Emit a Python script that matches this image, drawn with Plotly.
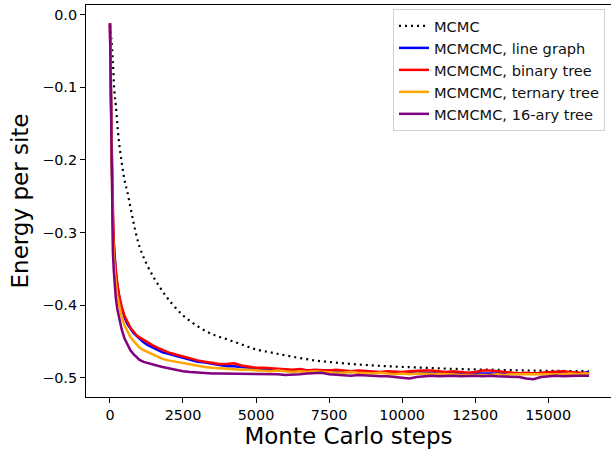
import plotly.graph_objects as go

# ---- data ----
mcmc_steps = [0, 50, 100, 150, 200, 300, 400, 500, 600, 800, 1000, 1250, 1500, 1750, 2000,
              2500, 3000, 3500, 4000, 4500, 5000, 5500, 6000, 7000, 8000, 9000, 10000,
              11000, 12000, 13000, 14000, 15000, 16400]
mcmc_energy = [-0.015, -0.035, -0.065, -0.105, -0.125, -0.172, -0.203, -0.228, -0.245, -0.285,
               -0.318, -0.343, -0.362, -0.378, -0.392, -0.414, -0.429, -0.440, -0.447, -0.454,
               -0.461, -0.465, -0.469, -0.476, -0.480, -0.483, -0.485, -0.4865, -0.488,
               -0.4888, -0.4897, -0.4903, -0.491]

steps = [0, 20, 40, 60, 80, 100, 130, 160, 200, 250, 300, 350, 400, 500, 600, 700, 800, 900,
         1000, 1150, 1300, 1450, 1600, 1800, 2000,
         2250, 2500, 2750, 3000, 3250, 3500, 3750, 4000, 4250, 4500, 4750, 5000, 5250, 5500,
         5750, 6000, 6250, 6500, 6750, 7000, 7250, 7500, 7750, 8000, 8250, 8500, 8750, 9000,
         9250, 9500, 9750, 10000, 10250, 10500, 10750, 11000, 11250, 11500, 11750, 12000,
         12250, 12500, 12750, 13000, 13250, 13500, 13750, 14000, 14250, 14500, 14750, 15000,
         15250, 15500, 15750, 16000, 16250, 16400]

line_graph = [-0.012, -0.06, -0.14, -0.21, -0.255, -0.285, -0.315, -0.338, -0.355, -0.372,
              -0.386, -0.396, -0.404, -0.417, -0.426, -0.433, -0.438, -0.442, -0.446, -0.451,
              -0.455, -0.458, -0.461, -0.465, -0.467,
              -0.470, -0.473, -0.476, -0.478, -0.479, -0.481, -0.482, -0.484, -0.484, -0.485,
              -0.487, -0.487, -0.488, -0.488, -0.489, -0.489, -0.490, -0.489, -0.490, -0.490,
              -0.491, -0.490, -0.491, -0.491, -0.492, -0.491, -0.492, -0.492, -0.493, -0.492,
              -0.493, -0.493, -0.494, -0.492, -0.493, -0.493, -0.494, -0.494, -0.493, -0.494,
              -0.494, -0.495, -0.494, -0.494, -0.495, -0.494, -0.495, -0.494, -0.495, -0.495,
              -0.494, -0.495, -0.495, -0.494, -0.494, -0.494, -0.493, -0.492]

binary_tree = [-0.012, -0.055, -0.13, -0.20, -0.25, -0.282, -0.312, -0.335, -0.353, -0.370,
               -0.384, -0.394, -0.402, -0.415, -0.424, -0.431, -0.436, -0.441, -0.444, -0.448,
               -0.452, -0.455, -0.458, -0.462, -0.465,
               -0.468, -0.471, -0.474, -0.476, -0.478, -0.480, -0.481, -0.481, -0.480, -0.483,
               -0.485, -0.486, -0.486, -0.487, -0.488, -0.488, -0.489, -0.488, -0.490, -0.489,
               -0.490, -0.490, -0.489, -0.490, -0.491, -0.490, -0.491, -0.492, -0.492, -0.491,
               -0.492, -0.492, -0.491, -0.490, -0.490, -0.490, -0.491, -0.492, -0.491, -0.492,
               -0.493, -0.492, -0.490, -0.490, -0.491, -0.492, -0.493, -0.494, -0.493, -0.494,
               -0.493, -0.492, -0.491, -0.491, -0.492, -0.493, -0.494, -0.494]

ternary_tree = [-0.012, -0.07, -0.16, -0.23, -0.275, -0.305, -0.335, -0.352, -0.370, -0.387,
                -0.398, -0.408, -0.416, -0.428, -0.437, -0.444, -0.449, -0.454, -0.458, -0.462,
                -0.465, -0.468, -0.470, -0.474, -0.476,
                -0.478, -0.480, -0.482, -0.484, -0.485, -0.486, -0.487, -0.487, -0.488, -0.489,
                -0.489, -0.490, -0.490, -0.491, -0.490, -0.491, -0.492, -0.491, -0.492, -0.491,
                -0.492, -0.492, -0.493, -0.493, -0.492, -0.493, -0.494, -0.494, -0.493, -0.494,
                -0.495, -0.494, -0.495, -0.494, -0.494, -0.495, -0.494, -0.495, -0.495, -0.496,
                -0.496, -0.497, -0.496, -0.496, -0.495, -0.496, -0.495, -0.495, -0.496, -0.495,
                -0.495, -0.496, -0.495, -0.495, -0.494, -0.495, -0.494, -0.494]

ary16_tree = [-0.012, -0.09, -0.19, -0.26, -0.30, -0.327, -0.352, -0.372, -0.390, -0.405,
              -0.416, -0.425, -0.433, -0.446, -0.455, -0.462, -0.467, -0.471, -0.475, -0.478,
              -0.480, -0.481, -0.483, -0.485, -0.487,
              -0.489, -0.491, -0.492, -0.493, -0.494, -0.494, -0.494, -0.494, -0.494, -0.495,
              -0.494, -0.494, -0.495, -0.495, -0.495, -0.496, -0.496, -0.495, -0.494, -0.494,
              -0.493, -0.495, -0.496, -0.496, -0.497, -0.496, -0.497, -0.497, -0.498, -0.498,
              -0.499, -0.500, -0.501, -0.499, -0.498, -0.497, -0.498, -0.497, -0.497, -0.498,
              -0.497, -0.497, -0.498, -0.497, -0.498, -0.498, -0.499, -0.499, -0.501, -0.502,
              -0.499, -0.498, -0.497, -0.498, -0.497, -0.497, -0.497, -0.497]

x_ticks = [0, 2500, 5000, 7500, 10000, 12500, 15000]
y_ticks = [0.0, -0.1, -0.2, -0.3, -0.4, -0.5]

FONT = "DejaVu Sans"

fig = go.Figure()
fig.add_trace(go.Scatter(x=mcmc_steps, y=mcmc_energy, mode="lines", name="MCMC",
                         line=dict(color="black", width=2.2, dash="2px,4px", shape="spline")))
series = [("MCMCMC, line graph", line_graph, "blue"),
          ("MCMCMC, binary tree", binary_tree, "red"),
          ("MCMCMC, ternary tree", ternary_tree, "orange"),
          ("MCMCMC, 16-ary tree", ary16_tree, "purple")]
for name, vals, col in series:
    fig.add_trace(go.Scatter(x=steps, y=vals, mode="lines", name=name,
                             line=dict(color=col, width=2.5)))

fig.update_layout(
    width=611, height=450,
    margin=dict(l=86, r=0, t=5, b=53, autoexpand=False),
    paper_bgcolor="white", plot_bgcolor="white",
    font=dict(family=FONT, size=14, color="black"),
    showlegend=True,
    legend=dict(x=0.9886, y=0.99, xanchor="right", yanchor="top",
                bgcolor="rgba(255,255,255,0.85)", bordercolor="#d0d0d0", borderwidth=1,
                font=dict(family=FONT, size=14.6, color="#111111"), tracegroupgap=0,
                itemwidth=30),
    xaxis=dict(range=[-820, 17150], tickvals=x_ticks, tickformat="d", automargin=False,
               showgrid=False, zeroline=False, showline=True, linecolor="black", linewidth=1,
               mirror=True, ticks="outside", ticklen=5, tickwidth=1, tickcolor="black",
               tickfont=dict(family=FONT, size=14.4, color="black"),
               title=dict(text="Monte Carlo steps", font=dict(family=FONT, size=23, color="black"),
                          standoff=4)),
    yaxis=dict(range=[-0.5264, 0.0131], tickvals=y_ticks, tickformat=".1f", automargin=False,
               showgrid=False, zeroline=False, showline=True, linecolor="black", linewidth=1,
               mirror=False, ticks="outside", ticklen=5, tickwidth=1, tickcolor="black",
               tickfont=dict(family=FONT, size=14.4, color="black"),
               title=dict(text="Energy per site", font=dict(family=FONT, size=23, color="black"),
                          standoff=7)),
)

fig.write_html("out.html", config={"displayModeBar": False},
               post_script="document.body.style.margin='0px';")
